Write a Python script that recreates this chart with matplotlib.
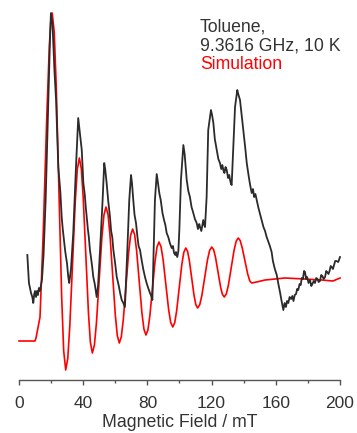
import matplotlib
matplotlib.use('Agg')
import matplotlib.pyplot as plt
from matplotlib.ticker import MultipleLocator

''' Data: measured and simulated EPR spectra (intensity in arb. units) '''
field_exp = [5.2, 6.2, 7.5, 8.3, 8.9, 9.5, 10.0, 10.6, 11.2, 11.8,
             12.4, 13.1, 13.7, 14.3, 15.3, 16.6, 18.3, 19.3, 19.9, 20.9,
             22.1, 23.1, 24.5, 25.2, 25.8, 26.6, 27.2, 27.8, 28.7, 29.3,
             29.9, 30.7, 31.3, 32.4, 33.8, 35.5, 36.9, 37.5, 39.1, 40.1,
             41.0, 41.6, 42.2, 42.9, 43.5, 44.2, 44.9, 45.6, 46.3, 47.2,
             48.4, 49.3, 50.5, 52.1, 53.1, 53.7, 54.6, 55.6, 56.7, 57.4,
             58.1, 58.8, 59.8, 60.9, 62.2, 63.0, 64.0, 65.0, 66.0, 67.5,
             68.7, 69.8, 70.4, 71.2, 72.0, 72.9, 73.8, 74.5, 75.4, 76.3,
             77.4, 78.5, 79.5, 80.5, 81.6, 82.4, 83.1, 84.7, 85.8, 86.6,
             87.4, 88.3, 89.4, 90.5, 91.2, 92.0, 93.0, 94.0, 95.1, 95.9,
             96.6, 97.4, 97.8, 98.6, 99.3, 99.9, 100.9, 102.4, 103.2, 104.5,
             105.5, 106.5, 107.5, 108.6, 109.6, 110.7, 111.5, 112.3, 112.8, 113.6,
             114.8, 115.4, 115.9, 116.9, 117.9, 119.6, 120.3, 121.1, 122.0, 123.2,
             124.2, 125.2, 126.0, 126.7, 127.3, 128.0, 128.7, 129.4, 130.3, 131.0,
             131.5, 132.1, 132.5, 133.5, 134.6, 136.0, 136.6, 137.7, 138.8, 139.8,
             140.9, 141.9, 143.0, 144.0, 145.0, 145.8, 146.5, 147.3, 148.1, 149.2,
             150.2, 151.2, 152.3, 153.3, 154.3, 155.4, 156.3, 157.4, 158.2, 159.4,
             160.6, 161.6, 162.6, 163.6, 164.7, 165.5, 166.3, 167.0, 167.8, 168.6,
             169.5, 170.3, 171.0, 171.8, 172.6, 173.3, 174.0, 174.8, 175.5, 176.2,
             176.9, 177.6, 178.2, 178.9, 179.5, 180.4, 181.3, 182.1, 182.8, 183.6,
             184.4, 185.2, 186.0, 186.7, 187.5, 188.3, 189.0, 189.8, 190.7, 191.4,
             192.0, 192.8, 193.5, 194.2, 194.8, 195.6, 196.3, 197.0, 197.8, 198.9,
             200.0]
signal_exp = [86, 58, 48, 44, 38, 47, 50, 44, 50, 46,
              53, 50, 56, 61, 86, 141, 241, 301, 328, 316,
              270, 241, 174, 160, 148, 124, 113, 104, 91, 84,
              78, 64, 58, 72, 108, 174, 223, 214, 191, 158,
              146, 134, 124, 112, 104, 91, 83, 74, 64, 57,
              44, 56, 91, 141, 178, 172, 158, 140, 124, 110,
              104, 91, 79, 64, 55, 48, 41, 38, 34, 91,
              141, 166, 158, 141, 126, 118, 104, 95, 91, 82,
              72, 64, 58, 53, 48, 45, 41, 141, 167, 158,
              148, 141, 128, 120, 116, 108, 104, 98, 93, 95,
              88, 86, 89, 84, 90, 111, 161, 196, 187, 161,
              150, 144, 134, 128, 122, 118, 112, 117, 114, 110,
              121, 116, 114, 144, 211, 231, 226, 218, 202, 191,
              182, 178, 172, 176, 171, 168, 174, 171, 163, 166,
              161, 157, 156, 194, 234, 251, 247, 241, 225, 211,
              194, 178, 166, 156, 148, 152, 144, 147, 141, 133,
              127, 121, 114, 110, 104, 99, 95, 89, 80, 72,
              66, 57, 49, 40, 31, 38, 34, 40, 38, 44,
              42, 45, 40, 46, 47, 52, 51, 57, 56, 63,
              62, 70, 69, 62, 64, 58, 61, 55, 57, 60,
              58, 63, 62, 59, 60, 66, 65, 62, 64, 70,
              69, 67, 70, 75, 74, 72, 76, 80, 80, 79,
              84]

field_sim = [0.0, 10.0, 10.6, 13.1, 15.1, 17.3, 18.9, 20.0, 20.7,
             21.96, 23.22, 24.9, 26.58, 27.84, 29.1,
             30.38, 31.65, 33.35, 35.05, 36.33, 37.6,
             38.82, 40.03, 41.65, 43.27, 44.49, 45.7,
             46.98, 48.25, 49.95, 51.65, 52.93, 54.2,
             55.45, 56.69, 58.35, 60.01, 61.26, 62.5,
             63.75, 64.99, 66.65, 68.31, 69.56, 70.8,
             72.05, 73.29, 74.95, 76.61, 77.86, 79.1,
             80.32, 81.53, 83.15, 84.77, 85.99, 87.2,
             88.49, 89.78, 91.5, 93.22, 94.51, 95.8,
             97.02, 98.23, 99.85, 101.47, 102.69, 103.9,
             105.01, 106.12, 107.6, 109.08, 110.19, 111.3,
             112.62, 113.94, 115.7, 117.46, 118.78, 120.1,
             121.27, 122.44, 124.0, 125.56, 126.73, 127.9,
             129.2, 130.5, 132.25, 134.0, 135.3, 136.6,
             137.8, 139.1, 140.8, 142.5, 143.8, 145.0,
             148.0, 153.3, 165.7, 178.2, 188.6, 195.6, 200.0]
signal_sim = [0, 0, 3, 24, 108, 224, 295, 325, 328,
              308.7, 254.5, 149.5, 44.5, -9.7, -29,
              -17.6, 14.7, 77, 139.3, 171.6, 183,
              172.5, 142.8, 85.5, 28.2, -1.5, -12,
              -4.1, 18.1, 61, 103.9, 126.1, 134,
              126.7, 106, 66, 26, 5.3, -2,
              4.2, 21.5, 55, 88.5, 105.8, 112,
              106.3, 90.2, 59, 27.8, 11.7, 6,
              11, 25.2, 52.5, 79.8, 94, 99,
              94.4, 81.5, 56.5, 31.5, 18.6, 14,
              18.3, 30.3, 53.5, 76.7, 88.7, 93,
              89.8, 80.6, 63, 45.4, 36.2, 33,
              36.3, 45.6, 63.5, 81.4, 90.7, 94,
              91.3, 83.7, 69, 54.3, 46.7, 44,
              47.2, 56.2, 73.5, 90.8, 99.8, 103,
              100.5, 93, 80, 67, 60, 58,
              59, 61, 63, 62, 61, 60, 63]

xticks_major = [0, 40, 80, 120, 160, 200]

''' Plot '''
plt.rcParams['font.family'] = ['Liberation Sans', 'DejaVu Sans']
fig = plt.figure(figsize=(3.57, 4.33), dpi=100)
ax = fig.add_axes([0.0532, 0.1224, 0.8992, 0.866])

ax.plot(field_sim, signal_sim, color='#ff0000', lw=1.2, clip_on=False, zorder=2)
ax.plot(field_exp, signal_exp, color='#2b2b2b', lw=1.3, clip_on=False, zorder=3)

# only the bottom axis is shown
ax.set_xlim(0, 200)
ax.set_ylim(-39, 336)
for side in ['top', 'left', 'right']:
    ax.spines[side].set_visible(False)
ax.spines['bottom'].set_color('#555555')
ax.spines['bottom'].set_linewidth(1.0)
ax.set_yticks([])
ax.set_xticks(xticks_major)
ax.xaxis.set_minor_locator(MultipleLocator(20))
ax.tick_params(axis='x', which='major', length=3.6, width=1.0, color='#555555',
               labelsize=12.5, labelcolor='#333333', pad=8)
ax.tick_params(axis='x', which='minor', length=2.2, width=1.0, color='#555555')
ax.set_xlabel('Magnetic Field / mT', fontsize=12.8, color='#333333', labelpad=2)

# sample info
fig.text(0.5602, 0.9284, 'Toluene,', fontsize=12.7, color='#333333', va='baseline')
fig.text(0.5602, 0.8845, '9.3616 GHz, 10 K', fontsize=12.7, color='#333333', va='baseline')
fig.text(0.5602, 0.8406, 'Simulation', fontsize=12.7, color='#ff0000', va='baseline')

plt.savefig('out.png', dpi=100)
